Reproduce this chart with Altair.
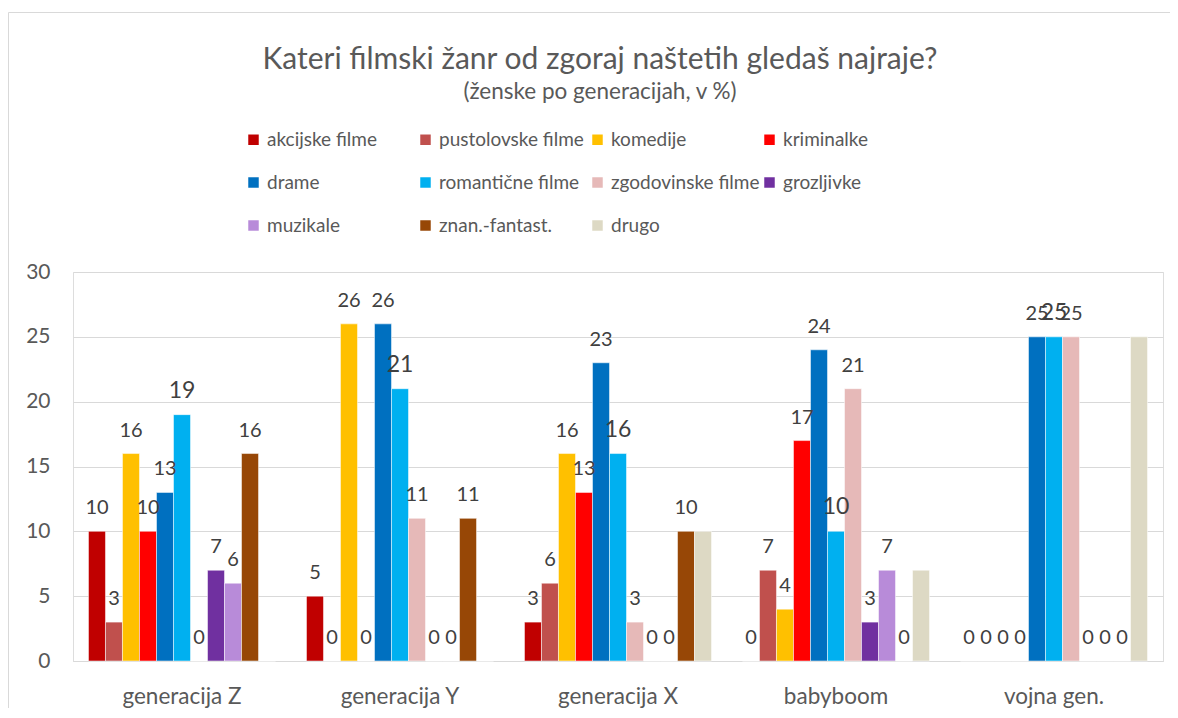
import altair as alt
import pandas as pd

FONT = "Lato"

groups = ["generacija Z", "generacija Y", "generacija X", "babyboom", "vojna gen."]
genres = ["akcijske filme", "pustolovske filme", "komedije", "kriminalke", "drame",
          "romantične filme", "zgodovinske filme", "grozljivke", "muzikale",
          "znan.-fantast.", "drugo"]
colors = ["#C00000", "#C0504D", "#FFC000", "#FF0000", "#0070C0", "#00B0F0",
          "#E6B9B8", "#7030A0", "#B88BD9", "#974706", "#DDD9C4"]

akcijske = [10, 5, 3, 0, 0]
pustolovske = [3, 0, 6, 7, 0]
komedije = [16, 26, 16, 4, 0]
kriminalke = [10, 0, 13, 17, 0]
drame = [13, 26, 23, 24, 25]
romanticne = [19, 21, 16, 10, 25]
zgodovinske = [0, 11, 3, 21, 25]
grozljivke = [7, 0, 0, 3, 0]
muzikale = [6, 0, 0, 7, 0]
znan_fantast = [16, 11, 10, 0, 0]
drugo = [0, 0, 10, 7, 25]

series = [akcijske, pustolovske, komedije, kriminalke, drame, romanticne,
          zgodovinske, grozljivke, muzikale, znan_fantast, drugo]

rows = []
for g_i, g in enumerate(groups):
    for s_i, name in enumerate(genres):
        rows.append({"skupina": g, "zanr": name, "vrednost": series[s_i][g_i]})
df = pd.DataFrame(rows)

x_enc = alt.X("skupina:N", sort=groups, title=None,
              scale=alt.Scale(paddingInner=0, paddingOuter=0),
              axis=alt.Axis(labelAngle=0, ticks=False, domainColor="#d9d9d9",
                            labelPadding=24, labelFontSize=22.5, labelColor="#595959",
                            labelFont=FONT, grid=False))
xoff_enc = alt.XOffset("zanr:N", sort=genres,
                       scale=alt.Scale(paddingInner=0, paddingOuter=0.91))
y_enc = alt.Y("vrednost:Q", title=None,
              scale=alt.Scale(domain=[0, 30], nice=False),
              axis=alt.Axis(values=[0, 5, 10, 15, 20, 25, 30], domain=False, ticks=False,
                            gridColor="#d9d9d9", gridWidth=1, labelPadding=23,
                            labelFontSize=21, labelColor="#595959", labelFont=FONT))

bars = alt.Chart(df).mark_bar(stroke="white", strokeWidth=0.5).encode(
    x=x_enc,
    xOffset=xoff_enc,
    y=y_enc,
    color=alt.Color("zanr:N", sort=genres,
                    scale=alt.Scale(domain=genres, range=colors),
                    legend=alt.Legend(title=None, orient="none", legendX=171, legendY=-142,
                                      direction="horizontal", columns=4, gridAlign="all",
                                      columnPadding=0, rowPadding=23,
                                      symbolType="square", symbolSize=110,
                                      symbolStrokeWidth=0, labelFontSize=19,
                                      labelColor="#595959", labelFont=FONT,
                                      labelLimit=300)),
)

labels = alt.Chart(df).transform_filter(
    alt.datum.zanr != "drugo"
).mark_text(baseline="alphabetic", dy=-17, color="#404040", font=FONT).encode(
    x=alt.X("skupina:N", sort=groups),
    xOffset=alt.XOffset("zanr:N", sort=genres),
    y=alt.Y("vrednost:Q"),
    text=alt.Text("vrednost:Q"),
    size=alt.condition(alt.datum.zanr == "romantične filme", alt.value(23), alt.value(20)),
)

edge_left = alt.Chart(pd.DataFrame({"a": [0]})).mark_rule(
    color="#d9d9d9", strokeWidth=1
).encode(x=alt.value(-64.5), y=alt.value(-259.5), y2=alt.value(460))

edge_top = alt.Chart(pd.DataFrame({"a": [0]})).mark_rule(
    color="#d9d9d9", strokeWidth=1
).encode(y=alt.value(-259.5), x=alt.value(-64.5), x2=alt.value(1300))

chart = alt.layer(edge_left, edge_top, bars, labels).properties(
    width=1090,
    height=389,
    padding={"left": 65, "top": 264, "right": 7, "bottom": 47},
    autosize=alt.AutoSizeParams(type="none"),
    title=alt.TitleParams(
        text="Kateri filmski žanr od zgoraj naštetih gledaš najraje?",
        subtitle="(ženske po generacijah, v %)",
        fontSize=30, subtitleFontSize=22.5, font=FONT, subtitleFont=FONT,
        fontWeight="normal", color="#595959", subtitleColor="#595959",
        anchor="middle", dx=-18, offset=-91, subtitlePadding=6,
    ),
).configure_view(stroke=None).configure(background="white")

chart.save("out.html", embed_options={"renderer": "svg", "actions": False})
